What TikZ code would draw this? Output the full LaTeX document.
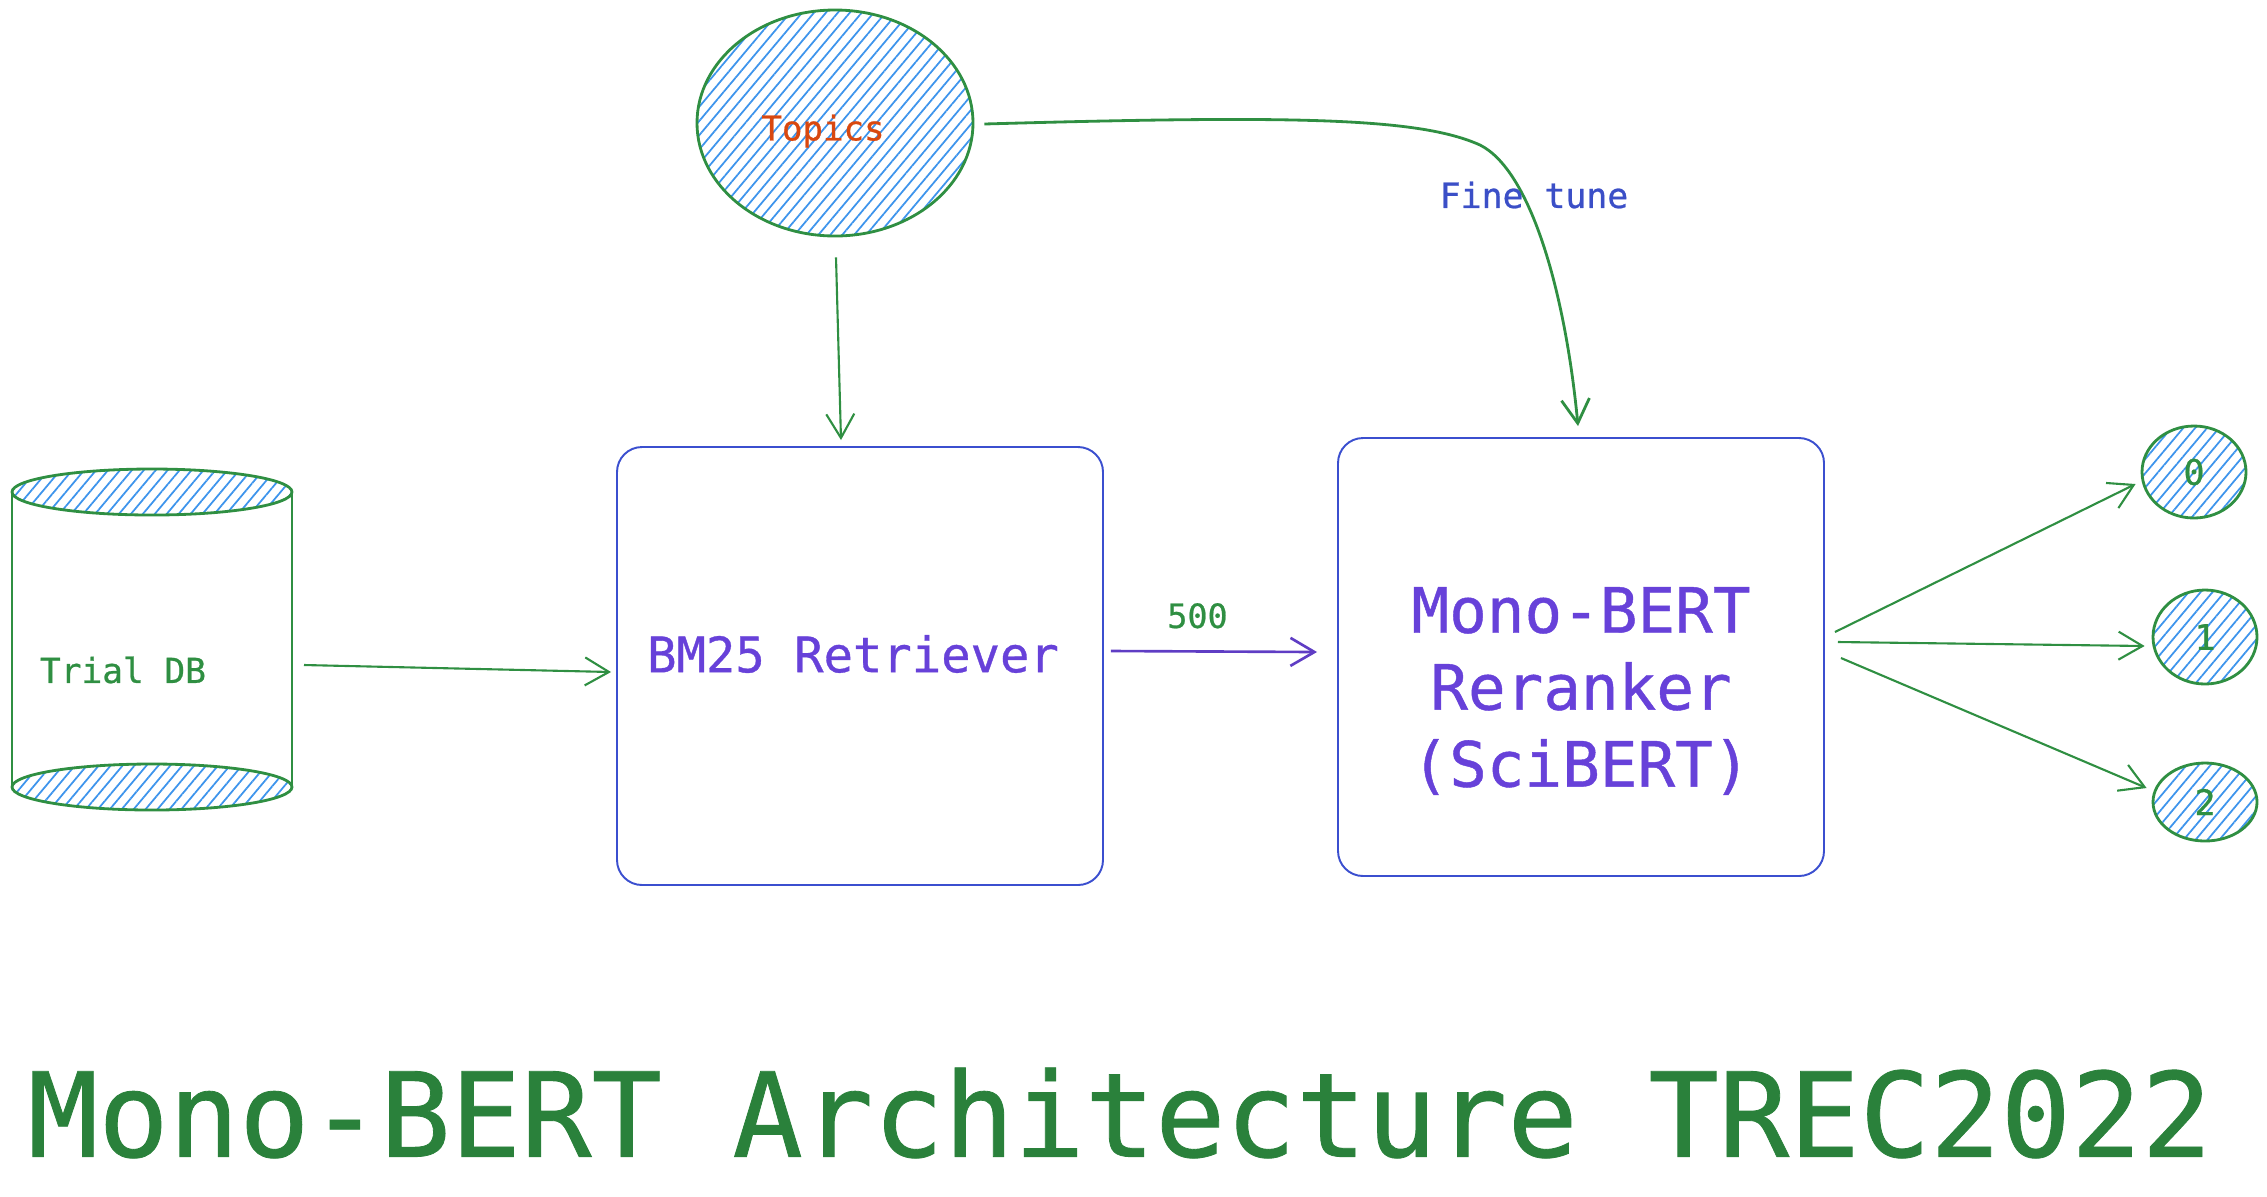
\documentclass[tikz,border=0pt]{standalone}
\usepackage{fontspec}
\setmonofont{DejaVu Sans Mono}[FakeBold=0.7]
\usetikzlibrary{arrows.meta,shapes.geometric,patterns.meta,calc}
\definecolor{grn}{HTML}{2F8F42}
\definecolor{bord}{HTML}{3B4FCF}
\definecolor{purp}{HTML}{6741D9}
\definecolor{arr}{HTML}{5F3DC4}
\definecolor{ftblue}{HTML}{3B4FC7}
\definecolor{topic}{HTML}{D9480F}
\definecolor{hatchc}{HTML}{3D94EC}
\begin{document}
\begin{tikzpicture}[x=.1mm,y=-.1mm,font=\ttfamily,>={Straight Barb[length=2.4mm,width=2.8mm]},
  hatch/.style={pattern={Lines[angle=50,distance=2.6pt,line width=.5pt]},pattern color=hatchc},
  blob/.style={ellipse,draw=grn,line width=.8pt,hatch,inner sep=0pt,text=grn},
  box/.style={draw=bord,line width=.55pt,rounded corners=2.5mm,minimum width=4.86cm,minimum height=4.38cm},
  sz/.style={font=\ttfamily\fontsize{#1}{#1}\selectfont},
  conn/.style={->,grn,line width=.6pt}]
\useasboundingbox (0,0) rectangle (2267,1196);
% the trial store, drawn as a cylinder
\draw[grn,line width=.8pt,hatch] (152,492) ellipse [x radius=140,y radius=23];
\draw[grn,line width=.8pt,hatch] (152,787) ellipse [x radius=140,y radius=23];
\draw[grn,line width=.8pt] (12,492) -- (12,787) (292,492) -- (292,787);
\coordinate (dbside) at (292,640);
\node[sz=9.8,text=grn] (db) at (123,670) {Trial DB};
% topics and the two stages
\node[blob,minimum width=2.76cm,minimum height=2.26cm] (topics) at (835,123) {};
\node[text=topic,sz=9.7] (topicslbl) at (823,131) {Topics};
\node[box] (bm25) at (860,666) {};
\node[text=purp,sz=13.9] (bm25lbl) at (853,654) {BM25 Retriever};
\node[box] (bert) at (1581,657) {};
\node[text=purp,font=\ttfamily\fontsize{17.8}{21.9}\selectfont,align=center] (bertlbl) at (1581,691) {Mono-BERT\\Reranker\\(SciBERT)};
% output labels
\node[blob,minimum width=1.04cm,minimum height=.92cm,sz=10] (out0) at (2194,472) {0};
\node[blob,minimum width=1.04cm,minimum height=.94cm,sz=10] (out1) at (2205,637) {1};
\node[blob,minimum width=1.04cm,minimum height=.78cm,sz=10] (out2) at (2205,802) {2};
% connectors
\draw[conn] ([shift={(12,25)}]dbside) -- ([shift={(-5,6)}]bm25.west);
\draw[conn] ([shift={(1,20)}]topics.south) -- ([shift={(-19,-6)}]bm25.north);
\draw[->,arr,line width=.75pt] ([shift={(7,-15)}]bm25.east) -- ([shift={(-20,-5)}]bert.west)
  node[pos=.42,above=1mm,text=grn,sz=9.5] (n500) {500};
\draw[conn,line width=.8pt] ([shift={(10,1)}]topics.east) .. controls (1300,115) and (1420,118) .. (1480,145)
  .. controls (1530,170) and (1565,290) .. ([shift={(-3,-11)}]bert.north);
\node[text=ftblue,sz=9.9] (ft) at (1534,195) {Fine tune};
\draw[conn] ([shift={(10,-25)}]bert.east) -- ([shift={(-5,12)}]out0.west);
\draw[conn] ([shift={(13,-15)}]bert.east) -- ([shift={(-7,9)}]out1.west);
\draw[conn] ([shift={(16,1)}]bert.east) -- ([shift={(-5,-14)}]out2.west);
% caption
\node[text=grn!90!black,sz=33.3] (title) at (1120,1113) {Mono-BERT Architecture TREC2022};
\end{tikzpicture}
\end{document}
